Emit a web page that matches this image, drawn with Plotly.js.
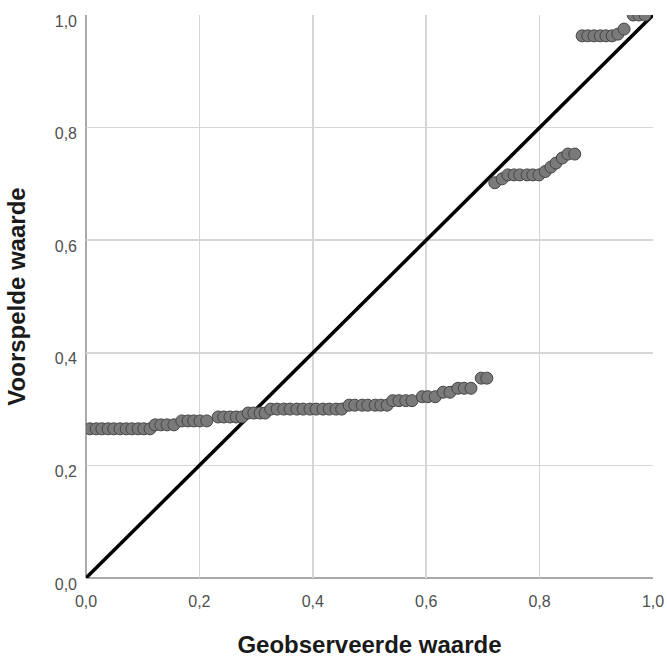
<!DOCTYPE html>
<html><head><meta charset="utf-8">
<script src="https://cdn.plot.ly/plotly-3.0.1.min.js"></script>
<style>html,body{margin:0;padding:0;background:#fff;}#chart{width:667px;height:659px;}</style>
</head><body><div id="chart"></div>
<script>
const observed = [0.007,0.018,0.028,0.039,0.049,0.060,0.071,0.081,0.092,0.102,0.113,
  0.122,0.132,0.143,0.155,
  0.169,0.180,0.190,0.201,0.213,
  0.233,0.243,0.254,0.265,0.275,
  0.286,0.296,0.307,0.316,
  0.326,0.337,0.349,0.360,0.372,0.383,0.395,0.406,0.418,0.429,0.441,0.451,
  0.464,0.474,0.487,0.497,0.510,0.520,0.531,
  0.541,0.552,0.564,0.575,
  0.593,0.603,0.616,
  0.630,0.642,
  0.656,0.667,0.679,
  0.697,0.707,
  0.721,0.734,0.744,0.755,0.765,0.778,0.788,0.799,0.810,0.820,0.829,0.840,0.850,0.862,
  0.875,0.885,0.896,0.907,0.917,0.928,0.938,0.949,
  0.965,0.975,0.986];
const predicted = [0.265,0.265,0.265,0.265,0.265,0.265,0.265,0.265,0.265,0.265,0.265,
  0.272,0.272,0.272,0.272,
  0.279,0.279,0.279,0.279,0.279,
  0.286,0.286,0.286,0.286,0.286,
  0.293,0.293,0.293,0.293,
  0.300,0.300,0.300,0.300,0.300,0.300,0.300,0.300,0.300,0.300,0.300,0.300,
  0.307,0.307,0.307,0.307,0.307,0.307,0.307,
  0.315,0.315,0.315,0.315,
  0.322,0.322,0.322,
  0.330,0.330,
  0.337,0.337,0.337,
  0.355,0.355,
  0.702,0.709,0.716,0.716,0.716,0.716,0.716,0.716,0.722,0.730,0.737,0.746,0.753,0.753,
  0.963,0.963,0.963,0.963,0.963,0.963,0.966,0.975,
  1.0,1.0,1.0];
const refLine = [0, 1];
const tickVals = [0, 0.2, 0.4, 0.6, 0.8, 1.0];

const data = [
  {x: refLine, y: refLine, mode: 'lines', type: 'scatter',
   line: {color: '#000', width: 3.5}, hoverinfo: 'skip', showlegend: false},
  {x: observed, y: predicted, mode: 'markers', type: 'scatter',
   marker: {size: 12, color: '#7a7a7a', line: {color: '#454545', width: 1}}, showlegend: false}
];
const FONT = 'Liberation Sans, Arial, sans-serif';
const axisCommon = {
  range: [0, 1], tickvals: tickVals, tickformat: '.1f',
  showgrid: true, gridcolor: '#d6d6d6', gridwidth: 1.5,
  zeroline: false, showline: false, ticks: '',
  tickfont: {family: FONT, size: 16, color: '#505050'}
};
const layout = {
  width: 667, height: 659,
  margin: {l: 86, r: 14, t: 15, b: 81},
  paper_bgcolor: '#fff', plot_bgcolor: '#fff',
  separators: ',.',
  showlegend: false,
  xaxis: Object.assign({}, axisCommon, {
    title: {text: 'Geobserveerde waarde', standoff: 27,
      font: {family: FONT, size: 24, color: '#1a1a1a', weight: 'bold'}},
    ticklabelstandoff: 12
  }),
  yaxis: Object.assign({}, axisCommon, {
    title: {text: 'Voorspelde waarde', standoff: 22,
      font: {family: FONT, size: 24, color: '#1a1a1a', weight: 'bold'}},
    ticklabelstandoff: 8, ticklabelshift: 6
  }),
  shapes: [
    {type: 'line', xref: 'paper', yref: 'paper', x0: 0, x1: 0, y0: 0, y1: 1, line: {color: '#a8a8a8', width: 2}, layer: 'below'},
    {type: 'line', xref: 'paper', yref: 'paper', x0: 0, x1: 1, y0: 0, y1: 0, line: {color: '#a8a8a8', width: 2}, layer: 'below'}
  ]
};
Plotly.newPlot('chart', data, layout, {displayModeBar: false, staticPlot: true});
</script></body></html>
